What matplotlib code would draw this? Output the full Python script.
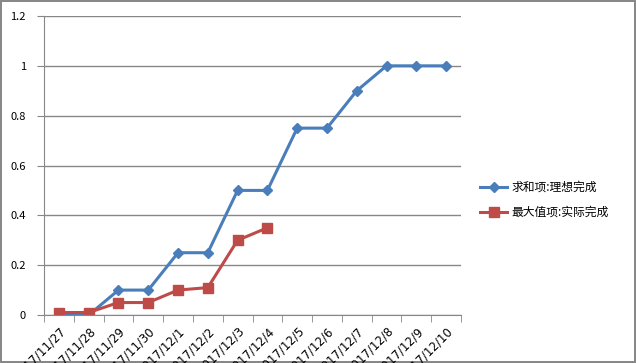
import numpy as np
import matplotlib.pyplot as plt

plt.rcParams['font.family'] = ['Noto Sans CJK SC', 'DejaVu Sans']

dates = ['2017/11/27', '2017/11/28', '2017/11/29', '2017/11/30', '2017/12/1',
         '2017/12/2', '2017/12/3', '2017/12/4', '2017/12/5', '2017/12/6',
         '2017/12/7', '2017/12/8', '2017/12/9', '2017/12/10']
ideal = [0, 0, 0.1, 0.1, 0.25, 0.25, 0.5, 0.5, 0.75, 0.75, 0.9, 1, 1, 1]
actual = [0.01, 0.01, 0.05, 0.05, 0.1, 0.11, 0.3, 0.35]

fig = plt.figure(figsize=(6.36, 3.63), dpi=100)
fig.patch.set_edgecolor('#888888')
fig.patch.set_linewidth(1.5)
ax = fig.add_axes([44 / 636, 48 / 363, 417 / 636, 299 / 363])

x = np.arange(len(dates))
ax.plot(x, ideal, color='#4a7ebb', lw=2.2, marker='D', ms=5.5, label='求和项:理想完成')
ax.plot(x[:len(actual)], actual, color='#be4b48', lw=2.2, marker='s', ms=7, label='最大值项:实际完成')

ax.set_xlim(-0.5, len(dates) - 0.5)
ax.set_ylim(0, 1.2)
ax.set_yticks([0, 0.2, 0.4, 0.6, 0.8, 1, 1.2])
ax.set_yticklabels(['0', '0.2', '0.4', '0.6', '0.8', '1', '1.2'], fontsize=8)
ax.yaxis.grid(True, color='#878787', lw=1)
ax.set_axisbelow(True)
ax.tick_params(axis='y', length=5, color='#878787', direction='out', pad=8)

ax.set_xticks(x)
ax.set_xticklabels(dates, fontsize=8.5, rotation=45, ha='right', rotation_mode='anchor', family='DejaVu Sans')
ax.tick_params(axis='x', length=0, pad=7)
ax.set_xticks(np.arange(-0.5, len(dates)), minor=True)
ax.tick_params(axis='x', which='minor', length=5, color='#878787', direction='out')

for s in ['top', 'right']:
    ax.spines[s].set_visible(False)
for s in ['left', 'bottom']:
    ax.spines[s].set_color('#878787')

ax.legend(loc='center left', bbox_to_anchor=(1.02, 0.385), frameon=False, fontsize=8.5,
          handlelength=2.3, handletextpad=0.4, labelspacing=1.0)

fig.savefig('out.png', dpi=100, edgecolor=fig.get_edgecolor())
